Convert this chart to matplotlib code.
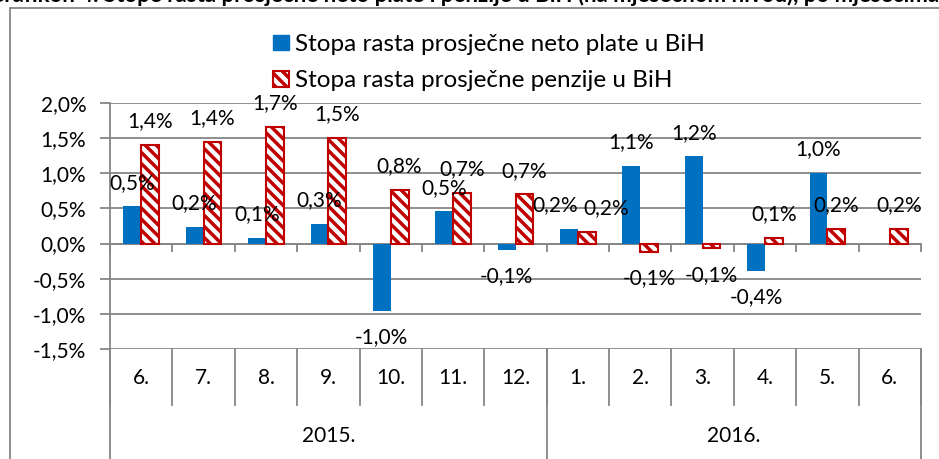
import numpy as np
import matplotlib.pyplot as plt
import matplotlib.transforms as mtransforms
from matplotlib.patches import Patch, Rectangle
from matplotlib.ticker import FuncFormatter

plt.rcParams['font.family'] = ['Lato', 'DejaVu Sans']
plt.rcParams['hatch.linewidth'] = 2.5

# podaci (mjesečne stope rasta, %)
months = ['6.', '7.', '8.', '9.', '10.', '11.', '12.', '1.', '2.', '3.', '4.', '5.', '6.']
years = ['2015.', '2016.']
months_per_year = [7, 6]
plata = [0.53, 0.24, 0.08, 0.28, -0.96, 0.46, -0.09, 0.21, 1.11, 1.24, -0.39, 1.01, np.nan]
penzija = [1.40, 1.45, 1.66, 1.50, 0.76, 0.72, 0.70, 0.17, -0.12, -0.07, 0.08, 0.21, 0.21]

blue = '#0070C0'
red = '#C00000'
grey = '#868686'
fs = 15

W, H = 939, 459
fig = plt.figure(figsize=(W / 100, H / 100), dpi=100)
ax = fig.add_axes([110 / W, 1 - 349 / H, (921 - 110) / W, (349 - 103) / H])

x = np.arange(len(months))
bw = 0.285
ax.bar(x - bw / 2, plata, bw, color=blue, zorder=3)
ax.bar(x + bw / 2, penzija, bw, facecolor='white', edgecolor=red, hatch='\\\\\\',
       linewidth=1.5, zorder=3)


def pct(v):
    return f'{v:.1f}%'.replace('.', ',')


lbl_shift = {7: (-10, 14)}  # ručno pomjerene oznake (januar 2016.)
for i in range(len(months)):
    for j, (vals, off) in enumerate([(plata, -bw / 2), (penzija, bw / 2)]):
        v = vals[i]
        if np.isnan(v):
            continue
        dx = lbl_shift.get(i, (0, 0))[j]
        dy = 17 if v >= 0 else -19
        ax.annotate(pct(v), (x[i] + off, v), xytext=(dx, dy), textcoords='offset points',
                    ha='center', va='center', fontsize=fs, color='black', zorder=5)

ax.set_xlim(-0.5, len(months) - 0.5)
ax.set_ylim(-1.5, 2.0)
ax.set_yticks(np.arange(-1.5, 2.01, 0.5))
ax.yaxis.set_major_formatter(FuncFormatter(lambda v, p: pct(v)))
ax.grid(axis='y', color=grey, linewidth=1.3, zorder=0)
ax.tick_params(axis='y', length=7, color=grey, width=1.3, pad=10, labelsize=fs)

ax.spines['bottom'].set_position(('data', 0))
ax.spines['bottom'].set_color(grey)
ax.spines['bottom'].set_linewidth(1.3)
ax.spines['left'].set_color(grey)
ax.spines['left'].set_linewidth(1.3)
ax.spines['top'].set_visible(False)
ax.spines['right'].set_visible(False)
ax.set_xticks(np.arange(-0.5, len(months), 1))
ax.tick_params(axis='x', length=6, color=grey, width=1.3, labelbottom=False)

# tabela kategorija ispod grafikona
tr = mtransforms.blended_transform_factory(ax.transData, ax.transAxes)
row1 = -(405 - 349) / (349 - 103)
row2 = -(470 - 349) / (349 - 103)
for b in np.arange(-0.5, len(months), 1):
    ax.plot([b, b], [0, row1], color=grey, lw=1.3, transform=tr, clip_on=False)
edges = np.concatenate([[0], np.cumsum(months_per_year)]) - 0.5
for b in edges:
    ax.plot([b, b], [0, row2], color=grey, lw=1.3, transform=tr, clip_on=False)
for i, m in enumerate(months):
    ax.text(x[i], -(378 - 349) / (349 - 103), m, transform=tr, ha='center', va='center',
            fontsize=fs)
for k, yname in enumerate(years):
    ax.text((edges[k] + edges[k + 1]) / 2, -(436 - 349) / (349 - 103), yname,
            transform=tr, ha='center', va='center', fontsize=fs)

# legenda
handles = [Patch(facecolor=blue, edgecolor=blue),
           Patch(facecolor='white', edgecolor=red, hatch='\\\\\\', linewidth=1.5)]
labels = ['Stopa rasta prosječne neto plate u BiH', 'Stopa rasta prosječne penzije u BiH']
fig.legend(handles, labels, loc='upper center', bbox_to_anchor=(489 / W, 1 - 22 / H),
           frameon=False, fontsize=17.5, handlelength=0.62, handleheight=0.62,
           handletextpad=0.25, labelspacing=0.62, borderpad=0)

# okvir grafikona i odsječeni naslov
fig.add_artist(Rectangle((10 / W, -0.1), 1.2, 1 - 8 / H + 0.1, transform=fig.transFigure,
                         fill=False, edgecolor=grey, lw=1.3))
fig.text(-12 / W, 1 - 2 / H, 'Grafikon 4. Stope rasta prosječne neto plate i penzije u BiH '
         '(na mjesečnom nivou), po mjesecima (%)', fontsize=16, fontweight='bold',
         va='baseline', ha='left')

fig.savefig('out.png', dpi=100)
